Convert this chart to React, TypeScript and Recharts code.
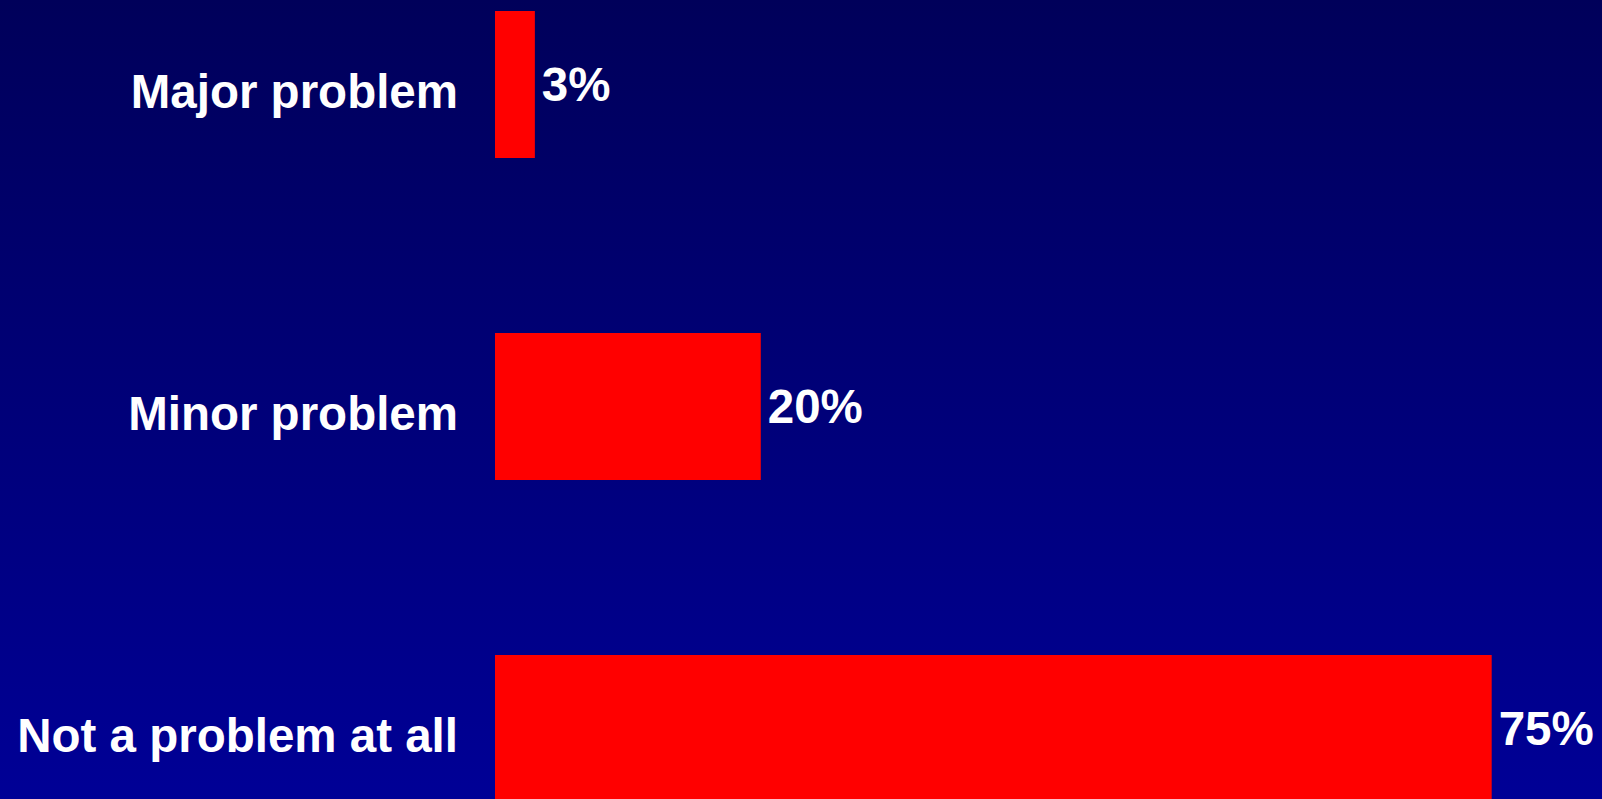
import React from 'react'
import { BarChart, Bar, XAxis, YAxis, LabelList } from 'recharts'

const categories = ['Major problem', 'Minor problem', 'Not a problem at all']
const percents = [3, 20, 75]

const data = categories.map((name, i) => ({ name, value: percents[i] }))

const font = '"Liberation Sans", Arial, sans-serif'

// category labels sit a little below the bar centre in the original slide
const CategoryTick = ({ x, y, payload }: any) => (
  <text
    x={x}
    y={y + 7}
    dy="0.355em"
    textAnchor="end"
    fill="#ffffff"
    fontSize={47.5}
    fontWeight={700}
    fontFamily={font}
  >
    {payload.value}
  </text>
)

export default function App() {
  return (
    <div
      style={{
        position: 'absolute',
        left: 0,
        top: 0,
        width: 1602,
        height: 799,
        overflow: 'hidden',
        background: 'linear-gradient(to bottom, #00005a 0%, #000096 100%)',
      }}
    >
      <div style={{ position: 'absolute', left: 0, top: -77 }}>
        <BarChart
          width={1602}
          height={966}
          data={data}
          layout="vertical"
          margin={{ top: 0, right: 0, left: 0, bottom: 0 }}
        >
          <XAxis type="number" hide domain={[0, 83.3]} />
          <YAxis
            type="category"
            dataKey="name"
            width={495}
            axisLine={false}
            tickLine={false}
            tickSize={0}
            tickMargin={37}
            tick={<CategoryTick />}
          />
          <Bar dataKey="value" fill="#ff0000" barSize={147} isAnimationActive={false}>
            <LabelList
              dataKey="value"
              position="right"
              offset={7}
              formatter={(v: any) => `${v}%`}
              style={{ fill: '#ffffff', fontSize: 47.5, fontWeight: 700, fontFamily: font }}
            />
          </Bar>
        </BarChart>
      </div>
    </div>
  )
}
